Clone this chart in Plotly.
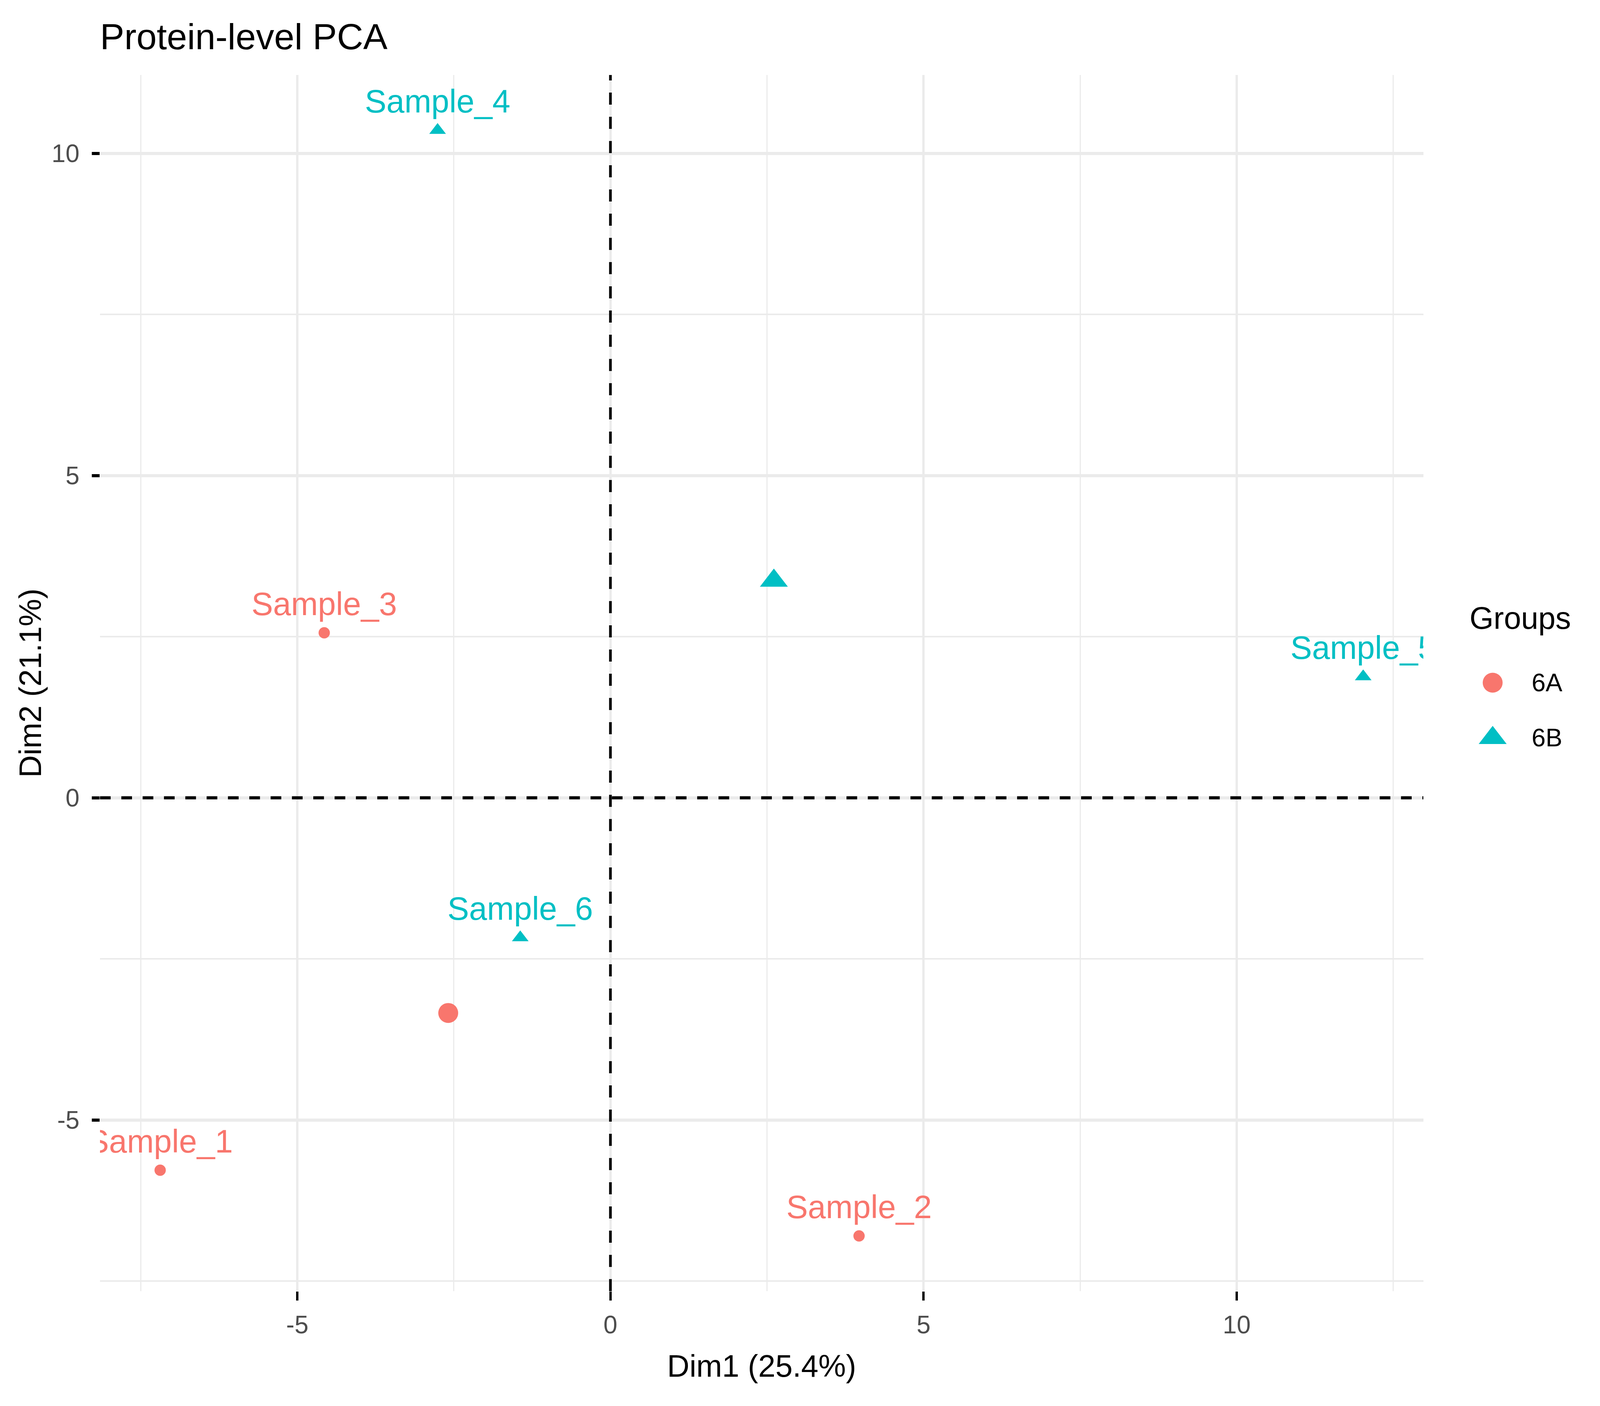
import plotly.graph_objects as go

# ---------------- data ----------------
samples = ["Sample_1", "Sample_2", "Sample_3", "Sample_4", "Sample_5", "Sample_6"]
groups = ["6A", "6A", "6A", "6B", "6B", "6B"]
dim1 = [-7.19, 3.97, -4.57, -2.76, 12.02, -1.44]
dim2 = [-5.78, -6.80, 2.56, 10.36, 1.88, -2.17]

group_names = ["6A", "6B"]
centroid_dim1 = [-2.59, 2.61]
centroid_dim2 = [-3.34, 3.37]

title_text = "Protein-level PCA"
x_title = "Dim1 (25.4%)"
y_title = "Dim2 (21.1%)"
legend_title = "Groups"
x_ticks = [-5, 0, 5, 10]
y_ticks = [-5, 0, 5, 10]

# ---------------- geometry / styling ----------------
# the browser viewport is 4096 CSS px wide, 3600 tall: map the 4800x3600 reference onto it
W, H = 4096, 3600
SX = W / 4800.0          # horizontal scale
FS = 0.88                # font scale
FONT = "Liberation Sans, Arial, Helvetica, sans-serif"
colors = {"6A": "#F8766D", "6B": "#00BFC4"}
symbols = {"6A": "circle", "6B": "triangle-up"}
point_size = {"6A": 29, "6B": 37}
centroid_size = {"6A": 51, "6B": 62}
LABEL_GAP_SIZE = 38      # invisible marker size that sets the label offset
GRID = "#EBEBEB"

PL, PR, PT, PB = 300 * SX, 4270 * SX, 192, 3306


def expand(vals, f=0.05):
    lo, hi = min(vals), max(vals)
    d = (hi - lo) * f
    return [lo - d, hi + d]


fig = go.Figure()

# sample points
for g in group_names:
    idx = [i for i, gg in enumerate(groups) if gg == g]
    fig.add_trace(go.Scatter(
        x=[dim1[i] for i in idx], y=[dim2[i] for i in idx], mode="markers",
        marker=dict(symbol=symbols[g], size=point_size[g], color=colors[g],
                    opacity=1, line=dict(width=0)),
        showlegend=False, name=g, text=[samples[i] for i in idx],
    ))

# group centroids
for k, g in enumerate(group_names):
    fig.add_trace(go.Scatter(
        x=[centroid_dim1[k]], y=[centroid_dim2[k]], mode="markers",
        marker=dict(symbol=symbols[g], size=centroid_size[g], color=colors[g],
                    opacity=1, line=dict(width=0)),
        showlegend=False, name=g,
    ))

# sample labels (above the points, clipped to the panel)
fig.add_trace(go.Scatter(
    x=dim1, y=dim2, text=samples, mode="markers+text", textposition="top center",
    marker=dict(size=LABEL_GAP_SIZE, color="rgba(0,0,0,0)", line=dict(width=0)),
    textfont=dict(family=FONT, size=94 * FS, color=[colors[g] for g in groups]),
    cliponaxis=True, showlegend=False, hoverinfo="skip",
))

# legend drawn on an auxiliary axis (group index as coordinate)
fig.add_trace(go.Scatter(
    x=[0] * len(group_names), y=list(range(len(group_names))), mode="markers",
    marker=dict(symbol=[symbols[g] for g in group_names],
                size=[centroid_size[g] for g in group_names],
                color=[colors[g] for g in group_names], opacity=1, line=dict(width=0)),
    xaxis="x2", yaxis="y2", showlegend=False, hoverinfo="skip", cliponaxis=False,
))

leg_left = 4400 * SX
leg_marker = 4478 * SX
annotations = []
for k, g in enumerate(group_names):
    annotations.append(dict(
        x=(4592 - 4478) * SX, y=k, xref="x2", yref="y2", text=g, showarrow=False,
        xanchor="left", yanchor="middle",
        font=dict(family=FONT, size=73 * FS, color="black"),
    ))
annotations.append(dict(
    x=(4406 - 4478) * SX, y=-1.17, xref="x2", yref="y2", text=legend_title, showarrow=False,
    xanchor="left", yanchor="middle",
    font=dict(family=FONT, size=90 * FS, color="black"),
))

fig.add_hline(y=0, line=dict(color="black", width=8, dash="%.1fpx,%.1fpx" % (32 * SX, 32 * SX)))
fig.add_vline(x=0, line=dict(color="black", width=8 * SX, dash="31px,31px"))

minor_x = dict(dtick=2.5, showgrid=True, gridcolor=GRID, gridwidth=3.7 * SX, ticks="")
minor_y = dict(dtick=2.5, showgrid=True, gridcolor=GRID, gridwidth=3.7, ticks="")
tickfont = dict(family=FONT, size=73 * FS, color="#4D4D4D")
title_font = dict(family=FONT, size=90 * FS, color="black")

row_px = 141.5
leg0 = 1748
fig.update_layout(
    width=W, height=H,
    margin=dict(l=0, r=0, t=0, b=0),
    paper_bgcolor="white", plot_bgcolor="white",
    font=dict(family=FONT, color="black"),
    title=dict(text=title_text, x=PL / W, xanchor="left", xref="paper",
               y=1 - 126 / H, yref="container", yanchor="bottom",
               font=dict(family=FONT, size=106 * FS, color="black")),
    xaxis=dict(domain=[PL / W, PR / W], range=expand(dim1),
               showline=False, zeroline=False,
               ticks="outside", ticklen=23, tickwidth=7.5 * SX, tickcolor="black",
               showgrid=True, gridcolor=GRID, gridwidth=7.5 * SX, minor=minor_x,
               tickvals=x_ticks, ticktext=[str(v) for v in x_ticks], tickfont=tickfont,
               ticklabelstandoff=7, automargin=False,
               title=dict(text=x_title, font=title_font, standoff=42)),
    yaxis=dict(domain=[1 - PB / H, 1 - PT / H], range=expand(dim2),
               showline=False, zeroline=False,
               ticks="outside", ticklen=23 * SX, tickwidth=7.5, tickcolor="black",
               showgrid=True, gridcolor=GRID, gridwidth=7.5, minor=minor_y,
               tickvals=y_ticks, ticktext=[str(v) for v in y_ticks], tickfont=tickfont,
               ticklabelstandoff=19, automargin=False,
               title=dict(text=y_title, font=title_font, standoff=0)),
    xaxis2=dict(domain=[leg_left / W, 1.0], range=[-(leg_marker - leg_left), W - leg_marker],
                visible=False, fixedrange=True),
    yaxis2=dict(domain=[(H - (leg0 + 1.5 * row_px)) / H, (H - (leg0 - 1.5 * row_px)) / H],
                range=[1.5, -1.5], visible=False, fixedrange=True),
    annotations=annotations,
    showlegend=False,
)

fig.write_html("out.html", config={"displayModeBar": False},
               post_script="document.body.style.margin='0px';")
